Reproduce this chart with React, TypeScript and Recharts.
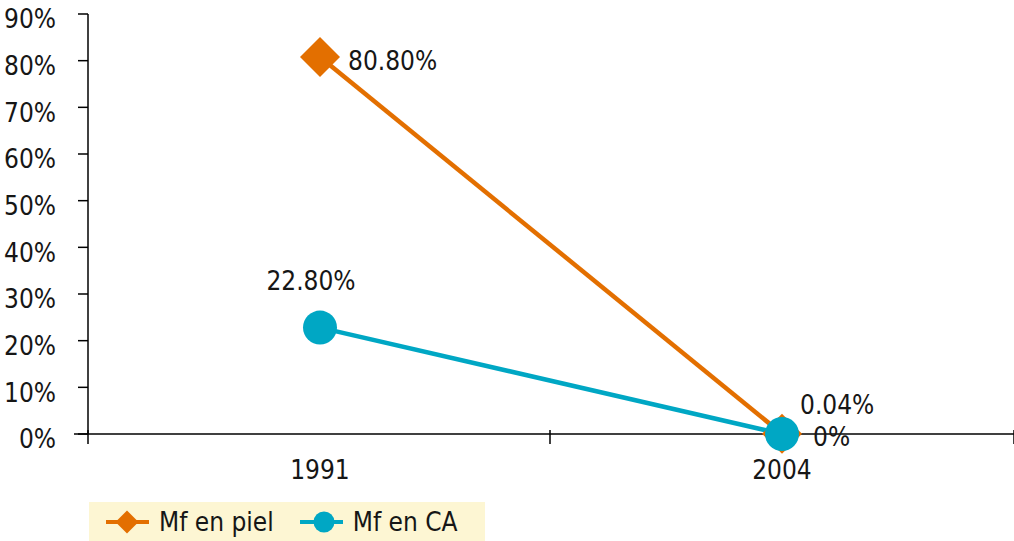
import { Legend, LabelList, Line, LineChart, XAxis, YAxis } from "recharts";

const years = ["1991", "2004"];
const pielValues = [80.8, 0.04];
const caValues = [22.8, 0];
const yTicks = [0, 10, 20, 30, 40, 50, 60, 70, 80, 90];

const ORANGE = "#E36F00";
const TEAL = "#00A7C4";
const INK = "#161616";
const FONT = "'Liberation Sans Narrow', 'DejaVu Sans Condensed', 'Arial Narrow', sans-serif";
const FS = 26;
const BAND_HALF = 232;

const data = years.map((year, i) => ({ year, piel: pielValues[i], ca: caValues[i] }));

const fmt = (v: number) => (v === 0 ? "0%" : `${v.toFixed(2)}%`);

const pielLabelPos = [
  { dx: 28, dy: 4, anchor: "start" },
  { dx: 18, dy: -29, anchor: "start" },
];
const caLabelPos = [
  { dx: -9, dy: -47, anchor: "middle" },
  { dx: 31, dy: 3, anchor: "start" },
];

function makeLabel(pos: { dx: number; dy: number; anchor: string }[]) {
  return (props: any) => {
    const { x, y, value, index } = props;
    const p = pos[index] ?? pos[0];
    return (
      <text
        x={x + p.dx}
        y={y + p.dy}
        textAnchor={p.anchor as any}
        dominantBaseline="central"
        fontSize={FS}
        fontFamily={FONT}
        fill={INK}
      >
        {fmt(value)}
      </text>
    );
  };
}

function Diamond({ cx, cy, r }: { cx: number; cy: number; r: number }) {
  return (
    <polygon
      points={`${cx},${cy - r} ${cx + r},${cy} ${cx},${cy + r} ${cx - r},${cy}`}
      fill={ORANGE}
    />
  );
}

function YTick({ x, y, payload }: any) {
  return (
    <text x={x} y={y + 5} dy="0.355em" textAnchor="end" fontSize={FS} fontFamily={FONT} fill={INK}>
      {`${payload.value}%`}
    </text>
  );
}

function XTick({ x, y, payload, index, visibleTicksCount }: any) {
  const left = x - BAND_HALF;
  const last = index === visibleTicksCount - 1;
  return (
    <g>
      {index === 0 && <line x1={left - 14} y1={y} x2={left} y2={y} stroke="#000" strokeWidth={1.5} />}
      <line x1={left} y1={y - 4} x2={left} y2={y + 10} stroke="#000" strokeWidth={1.5} />
      {last && (
        <line x1={x + BAND_HALF} y1={y - 4} x2={x + BAND_HALF} y2={y + 10} stroke="#000" strokeWidth={1.5} />
      )}
      <text x={x} y={y + 27} dy="0.71em" textAnchor="middle" fontSize={FS} fontFamily={FONT} fill={INK}>
        {payload.value}
      </text>
    </g>
  );
}

function LegendContent() {
  const items = [
    { name: "Mf en piel", color: ORANGE, shape: "diamond" },
    { name: "Mf en CA", color: TEAL, shape: "circle" },
  ];
  return (
    <div
      style={{
        background: "#FDF6D3",
        height: 39,
        width: 396,
        display: "flex",
        alignItems: "center",
        paddingLeft: 17,
        boxSizing: "border-box",
        fontFamily: FONT,
        fontSize: FS,
        color: INK,
        whiteSpace: "nowrap",
      }}
    >
      {items.map((it) => (
        <div key={it.name} style={{ display: "flex", alignItems: "center", marginRight: 26, flexShrink: 0 }}>
          <svg width={43} height={30} style={{ marginRight: 10, flexShrink: 0 }}>
            <line x1={0} y1={15} x2={43} y2={15} stroke={it.color} strokeWidth={4} />
            {it.shape === "diamond" ? (
              <polygon points="21,3.5 32.5,15 21,26.5 9.5,15" fill={it.color} />
            ) : (
              <circle cx={24} cy={15} r={10.5} fill={it.color} />
            )}
          </svg>
          <span>{it.name}</span>
        </div>
      ))}
    </div>
  );
}

export default function App() {
  return (
    <div style={{ position: "absolute", left: 0, top: 0, width: 1014, height: 541, background: "#fff" }}>
      <LineChart width={1014} height={541} data={data} margin={{ top: 14, right: 0, bottom: 0, left: 0 }}>
        <XAxis
          dataKey="year"
          padding={{ left: BAND_HALF, right: BAND_HALF }}
          height={68}
          tickLine={false}
          tickSize={0}
          tickMargin={0}
          axisLine={{ stroke: "#000", strokeWidth: 1.5 }}
          tick={<XTick />}
          interval={0}
        />
        <YAxis
          width={88}
          domain={[0, 90]}
          ticks={yTicks}
          interval={0}
          tickSize={10}
          tickMargin={22}
          tickLine={{ stroke: "#000", strokeWidth: 1.5 }}
          axisLine={{ stroke: "#000", strokeWidth: 1.5 }}
          tick={<YTick />}
        />
        <Legend
          verticalAlign="bottom"
          align="left"
          wrapperStyle={{ left: 89, bottom: 0, width: 396, height: 39 }}
          content={<LegendContent />}
        />
        <Line
          dataKey="piel"
          name="Mf en piel"
          stroke={ORANGE}
          strokeWidth={4.5}
          isAnimationActive={false}
          dot={(p: any) => <Diamond key={`d${p.index}`} cx={p.cx} cy={p.cy} r={20} />}
          activeDot={false}
        >
          <LabelList dataKey="piel" content={makeLabel(pielLabelPos)} />
        </Line>
        <Line
          dataKey="ca"
          name="Mf en CA"
          stroke={TEAL}
          strokeWidth={4.5}
          isAnimationActive={false}
          dot={(p: any) => <circle key={`c${p.index}`} cx={p.cx} cy={p.cy} r={17} fill={TEAL} />}
          activeDot={false}
        >
          <LabelList dataKey="ca" content={makeLabel(caLabelPos)} />
        </Line>
      </LineChart>
    </div>
  );
}
